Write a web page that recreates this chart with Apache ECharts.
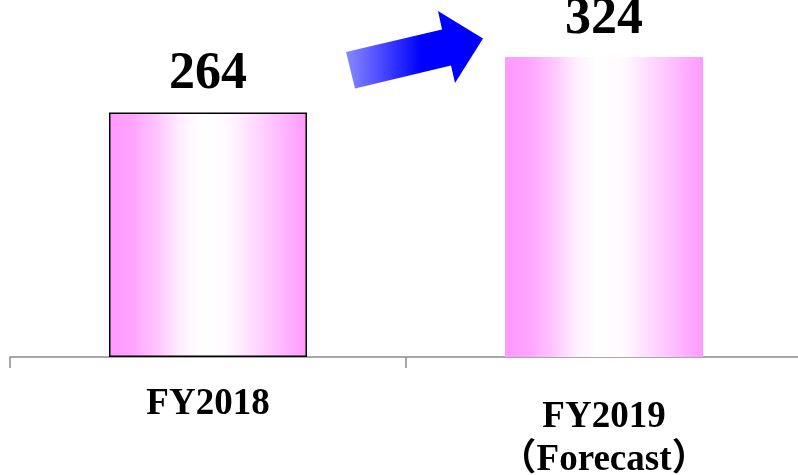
<!DOCTYPE html>
<html>
<head>
<meta charset="utf-8">
<style>
  html, body { margin: 0; padding: 0; background: #ffffff; }
  #chart { width: 798px; height: 475px; }
</style>
<script src="https://cdn.jsdelivr.net/npm/echarts@6/dist/echarts.min.js"></script>
</head>
<body>
<div id="chart"></div>
<script>
// Fiscal years and their values
const categories = ['FY2018', 'FY2019\n（Forecast）'];
const values = [264, 324];
const outlined = [true, false];

const serif = "'Liberation Serif', 'Times New Roman', 'Noto Sans CJK JP', serif";

// Pink column fill: saturated at the edges, fading to white just right of centre
const pinkFill = {
  type: 'linear', x: 0, y: 0, x2: 1, y2: 0,
  colorStops: [
    { offset: 0.00, color: '#ff99ff' },
    { offset: 0.12, color: '#ffa4ff' },
    { offset: 0.24, color: '#ffc4ff' },
    { offset: 0.36, color: '#ffefff' },
    { offset: 0.46, color: '#ffffff' },
    { offset: 0.60, color: '#fffaff' },
    { offset: 0.75, color: '#ffd6ff' },
    { offset: 0.88, color: '#ffb6ff' },
    { offset: 1.00, color: '#ff99ff' }
  ]
};

const chart = echarts.init(document.getElementById('chart'), null, { renderer: 'canvas' });

const option = {
  animation: false,
  // plot area runs a little past the right edge of the canvas
  grid: { left: 10, width: 792, top: 33, height: 324, outerBoundsMode: 'none', containLabel: false },
  xAxis: {
    type: 'category',
    data: categories.map((c, i) => i === 1
      ? { value: c, textStyle: { padding: [13, 0, 0, 0] } }
      : { value: c }),
    axisLine: { show: true, lineStyle: { color: '#8c8c8c', width: 1.5 } },
    axisTick: { show: true, length: 11, lineStyle: { color: '#8c8c8c', width: 1.5 } },
    axisLabel: {
      margin: 26,
      color: '#000000',
      fontFamily: serif,
      fontWeight: 'bold',
      fontSize: 37,
      lineHeight: 43
    }
  },
  yAxis: {
    type: 'value',
    min: 0,
    max: 350,
    show: false,
    splitLine: { show: false }
  },
  series: [{
    type: 'bar',
    barWidth: '50%',
    data: values.map((v, i) => ({
      value: v,
      itemStyle: {
        color: pinkFill,
        borderColor: outlined[i] ? '#000000' : 'transparent',
        borderWidth: outlined[i] ? 1.5 : 0
      }
    })),
    label: {
      show: true,
      position: 'top',
      distance: 12,
      color: '#000000',
      fontFamily: serif,
      fontWeight: 'bold',
      fontSize: 52
    }
  }],
  // Growth arrow between the two columns
  graphic: [{
    type: 'polygon',
    shape: {
      points: [
        [346, 52], [442, 29.5], [438, 11], [483, 38.5],
        [455, 83], [451, 65.5], [355, 88.5]
      ]
    },
    style: {
      fill: {
        type: 'linear', x: 0, y: 0, x2: 1, y2: 0,
        colorStops: [
          { offset: 0, color: '#8a8aff' },
          { offset: 0.55, color: '#0000ff' },
          { offset: 1, color: '#0000ff' }
        ]
      }
    },
    z: 10
  }]
};

chart.setOption(option);
</script>
</body>
</html>
